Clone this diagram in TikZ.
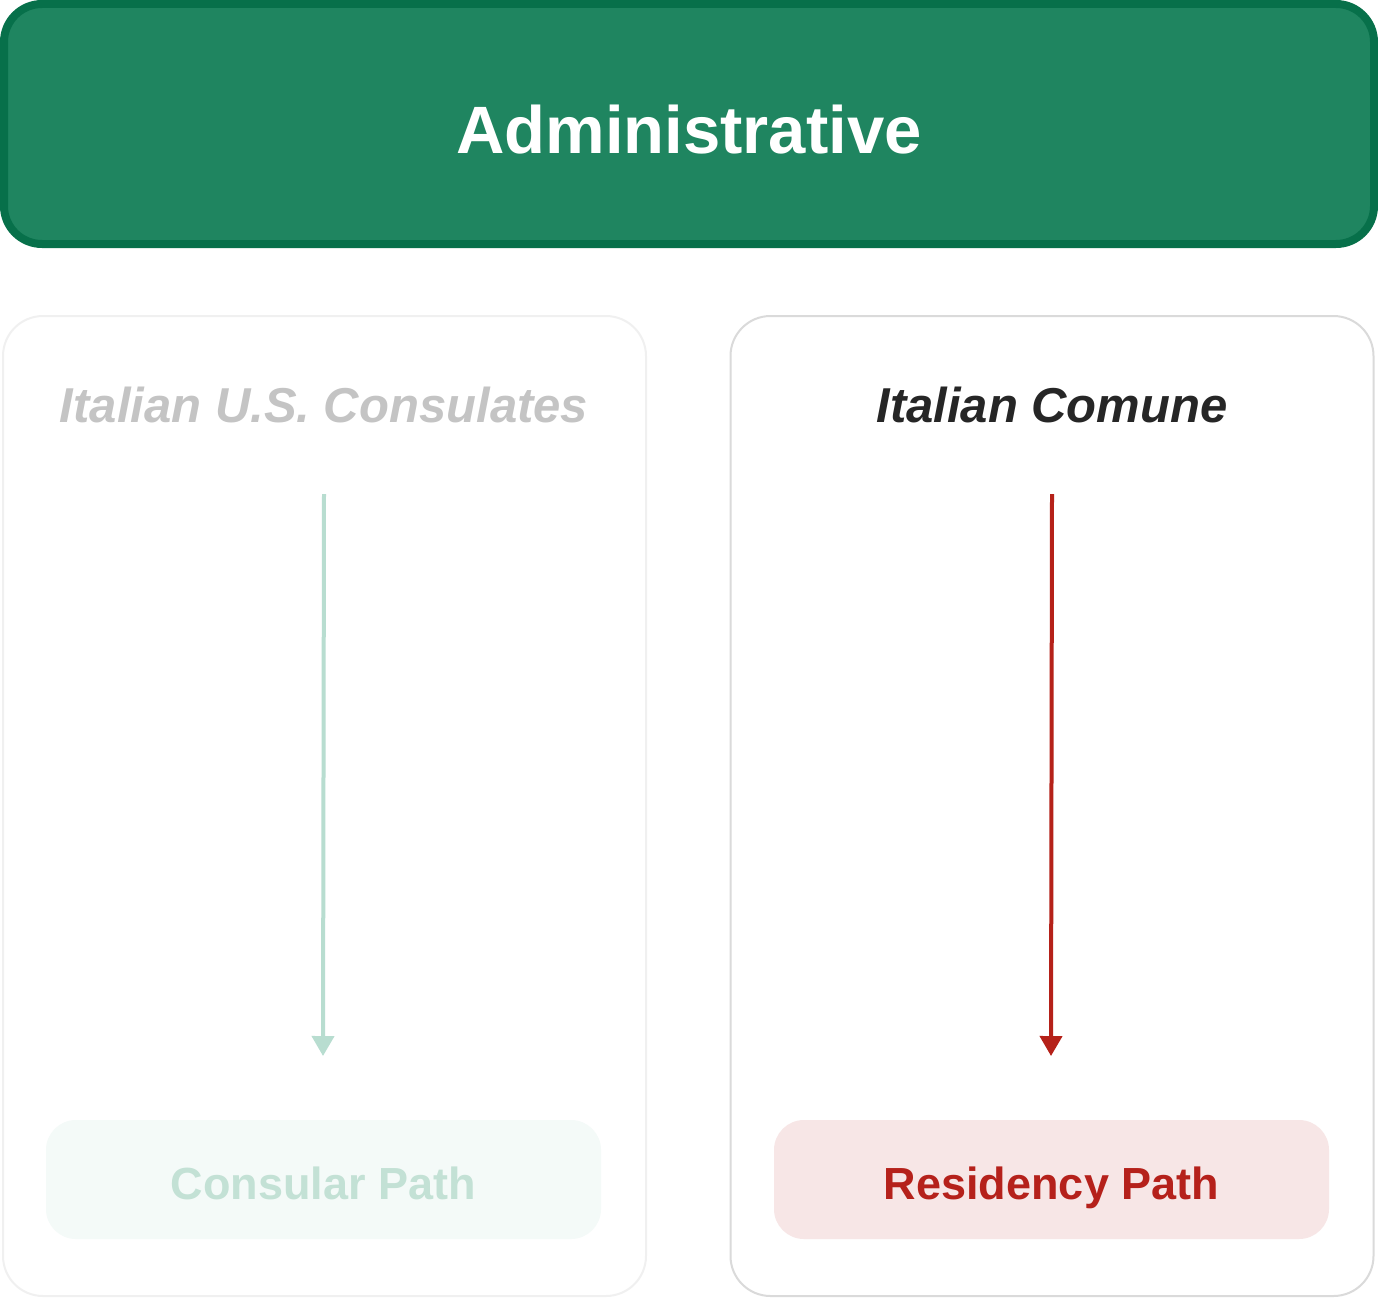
\documentclass[tikz,border=0pt]{standalone}
\usepackage{fontspec}
\setmainfont{Liberation Sans}
\usetikzlibrary{arrows.meta}
\definecolor{bannerfill}{HTML}{1F8560}
\definecolor{bannerline}{HTML}{07704A}
\definecolor{lpanel}{HTML}{F0F0F0}
\definecolor{rpanel}{HTML}{DADADA}
\definecolor{ltitle}{HTML}{C4C4C4}
\definecolor{rtitle}{HTML}{262626}
\definecolor{larrow}{HTML}{B8DDD0}
\definecolor{rarrow}{HTML}{B52119}
\definecolor{lboxfill}{HTML}{F4FAF8}
\definecolor{lboxtext}{HTML}{C3E1D5}
\definecolor{rboxfill}{HTML}{F7E6E6}
\definecolor{rboxtext}{HTML}{B5211B}
\tikzset{
  banner/.style={draw=bannerline, fill=bannerfill, line width=8pt, rounded corners=38pt,
    minimum width=1370pt, minimum height=240pt, inner sep=0pt, text=white,
    text height=58pt, text depth=0pt,
    font=\bfseries\fontsize{67}{80}\selectfont},
  panel/.style={line width=2pt, rounded corners=40pt, fill=white,
    minimum width=643pt, minimum height=980pt, inner sep=0pt},
  paneltitle/.style={font=\bfseries\itshape\fontsize{49}{58}\selectfont, inner sep=0pt,
    text height=35pt, text depth=0pt},
  pathbox/.style={rounded corners=30pt, minimum width=555pt, minimum height=119pt,
    inner sep=0pt, text height=39pt, text depth=0pt,
    font=\bfseries\fontsize{45}{54}\selectfont},
  flow/.style={line width=4pt, -{Triangle[width=22pt,length=20pt]}}
}
\begin{document}
\begin{tikzpicture}[x=1pt,y=-1pt]
\useasboundingbox (0,0) rectangle (1378,1298);
\node[banner] (admin) at (689,124) {Administrative};
\node[panel, draw=lpanel] (lpan) at (324.5,806) {};
\node[panel, draw=rpanel] (rpan) at (1052,806) {};
\node[paneltitle, text=ltitle] (ltit) at (324,405) {Italian U.S. Consulates};
\node[paneltitle, text=rtitle] (rtit) at (1052,405) {Italian Comune};
\node[pathbox, fill=lboxfill, text=lboxtext] (lbox) at (323.5,1179.5) {Consular Path};
\node[pathbox, fill=rboxfill, text=rboxtext] (rbox) at (1051.5,1179.5) {Residency Path};
\coordinate (la) at (324,494);
\coordinate (lb) at (323,1056);
\coordinate (ra) at (1052,494);
\coordinate (rb) at (1051,1056);
\draw[flow, larrow] (la) -- (lb);
\draw[flow, rarrow] (ra) -- (rb);
\end{tikzpicture}
\end{document}
